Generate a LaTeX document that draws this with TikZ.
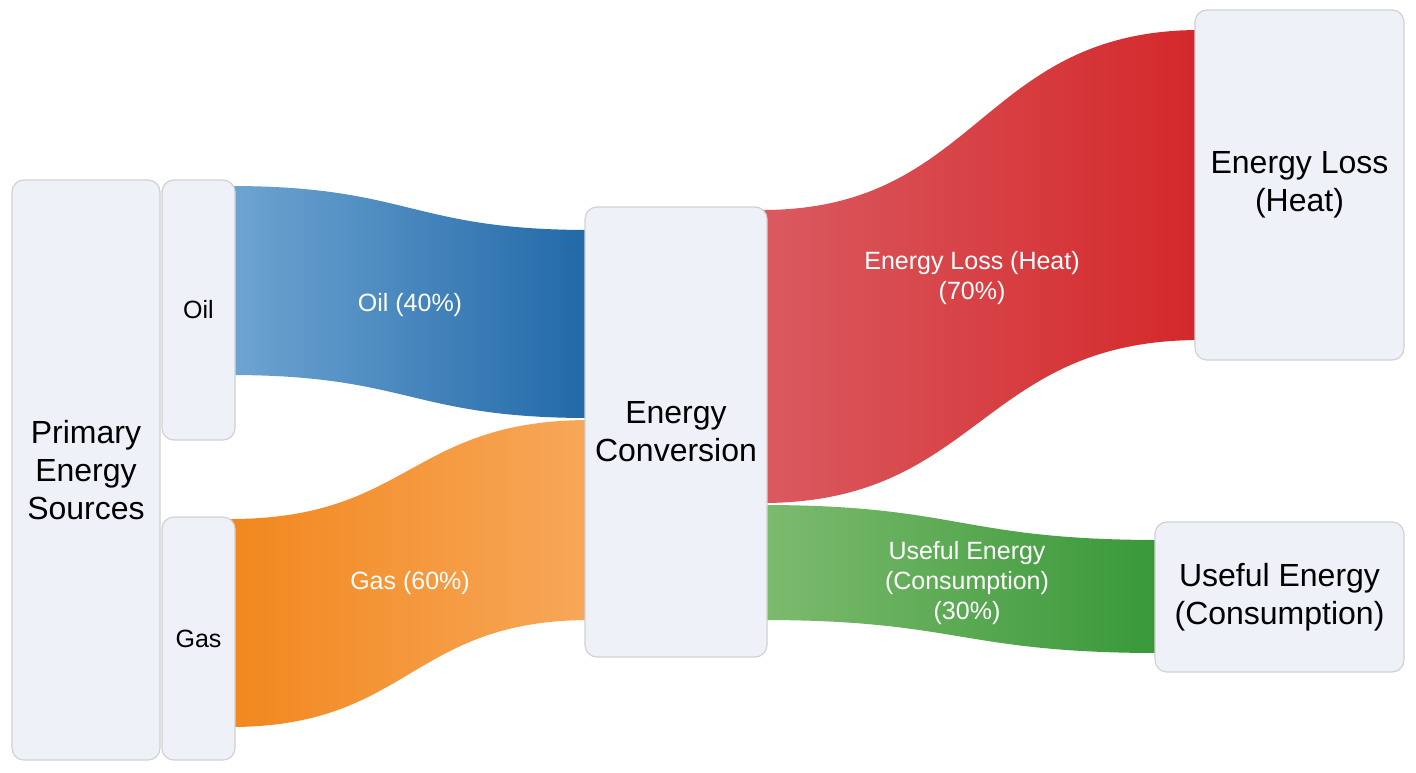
\documentclass[tikz,border=0pt]{standalone}
\usepackage{fontspec}
\setmainfont{Liberation Sans}
\begin{document}
\begin{tikzpicture}[x=0.5pt,y=-0.5pt,
  box/.style={draw=black!18,fill={rgb,255:red,238;green,242;blue,248},rounded corners=6pt,line width=0.6pt,align=center,inner sep=0pt},
  flowlab/.style={text=white,font=\fontsize{12.5}{15}\selectfont,align=center}]
\useasboundingbox (0,0) rectangle (1416,772);
\fill[white] (0,0) rectangle (1416,772);
\definecolor{bluel}{RGB}{110,165,210}\definecolor{blued}{RGB}{33,104,168}
\definecolor{orad}{RGB}{242,135,30}\definecolor{oral}{RGB}{247,168,90}
\definecolor{redl}{RGB}{218,90,96}\definecolor{redd}{RGB}{212,40,42}
\definecolor{grel}{RGB}{125,187,111}\definecolor{gred}{RGB}{56,152,56}
% flows
\shade[left color=bluel,right color=blued] (230,186) .. controls (410,186) and (410,230) .. (590,230) -- (590,418) .. controls (410,418) and (410,375) .. (230,375) -- cycle;
\shade[left color=orad,right color=oral] (230,519) .. controls (410,519) and (410,420) .. (590,420) -- (590,620) .. controls (410,620) and (410,727) .. (230,727) -- cycle;
\shade[left color=redl,right color=redd] (762,210) .. controls (980,210) and (980,30) .. (1200,30) -- (1200,340) .. controls (980,340) and (980,503) .. (762,503) -- cycle;
\shade[left color=grel,right color=gred] (762,505) .. controls (960,505) and (960,540) .. (1160,540) -- (1160,653) .. controls (960,653) and (960,620) .. (762,620) -- cycle;
% nodes
\node[box,minimum width=74pt,minimum height=290pt,font=\fontsize{16}{19}\selectfont] (prim) at (86,470) {Primary\\Energy\\Sources};
\node[box,minimum width=36.5pt,minimum height=130pt,font=\fontsize{12.5}{15}\selectfont] (oil) at (198.5,310) {Oil};
\node[box,minimum width=36.5pt,minimum height=121.5pt,font=\fontsize{12.5}{15}\selectfont] (gas) at (198.5,638.5) {Gas};
\node[box,minimum width=91pt,minimum height=225pt,font=\fontsize{16}{19}\selectfont] (conv) at (676,432) {Energy\\Conversion};
\node[box,minimum width=104.5pt,minimum height=175pt,font=\fontsize{16}{19}\selectfont] (loss) at (1299.5,185) {Energy Loss\\(Heat)};
\node[box,minimum width=124.5pt,minimum height=75pt,font=\fontsize{16}{19}\selectfont] (use) at (1279.5,597) {Useful Energy\\(Consumption)};
% labels
\node[flowlab] (l1) at (410,305) {Oil (40\%)};
\node[flowlab] (l2) at (410,583) {Gas (60\%)};
\node[flowlab] (l3) at (972,278) {Energy Loss (Heat)\\(70\%)};
\node[flowlab] (l4) at (967,583) {Useful Energy\\(Consumption)\\(30\%)};
\end{tikzpicture}
\end{document}
